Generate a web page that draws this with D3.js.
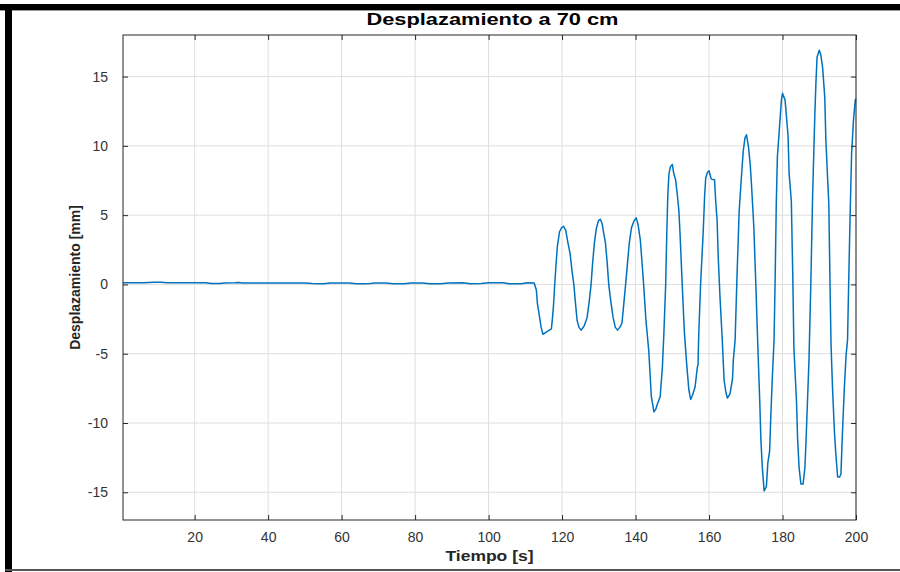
<!DOCTYPE html>
<html>
<head>
<meta charset="utf-8">
<script src="https://cdn.jsdelivr.net/npm/d3@7"></script>
<style>
body { margin: 0; background: #fff; }
text { font-family: "Liberation Sans", Arial, Helvetica, sans-serif; }
</style>
</head>
<body>
<div id="chart"></div>
<script>
// tiempo [s] y desplazamiento [mm]
let tiempo = [0.5, 6, 9, 11, 12.5, 20, 23, 24.5, 27, 28, 31, 32, 33, 40, 46, 50, 52, 55, 57, 62, 64, 67, 69, 72, 74, 77, 79, 82, 84, 87, 89, 93, 95, 98, 100, 104, 105.5, 109, 110.5, 112.4,
    113.0, 113.3, 113.9, 114.3, 114.8, 115.9, 117.1, 117.4, 117.7, 118.0, 118.3, 118.7, 119.3, 119.9, 120.4, 121.0, 121.6, 122.2, 122.7, 123.2, 123.7, 124.1, 124.6, 125.2, 126.0, 126.8, 127.4, 127.9, 128.3, 128.8, 129.3, 129.9,
    130.4, 130.9, 131.4, 131.8, 132.3, 132.7, 133.3, 133.9, 134.5, 135.1, 135.7, 136.3, 136.8, 137.3, 137.8, 138.3, 138.9, 139.6, 140.2, 140.7, 141.3, 141.7, 142.2, 142.8, 143.6, 144.3, 145.0, 145.5, 146.0, 146.7, 147.3, 147.7, 148.2, 148.5, 148.8, 149.1, 149.5,
    150.0, 150.4, 150.9, 151.4, 151.8, 152.1, 152.5, 152.9, 153.3, 153.9, 154.5, 155.0, 155.5, 156.2, 156.8, 157.0, 157.2, 157.7, 158.4, 158.8, 159.1, 159.6, 160.0, 160.6, 161.5, 161.8, 162.2, 162.5, 163.0, 163.6, 164.1, 164.6, 165.0, 165.7, 166.4, 166.6, 167.1, 167.6, 168.2, 168.8, 169.3, 169.8,
    170.2, 170.7, 171.2, 171.6, 172.2, 172.8, 173.3, 173.8, 174.1, 174.5, 175.0, 175.6, 176.0, 176.5, 176.8, 177.2, 177.7, 178.0, 178.3, 178.6, 179.3, 179.7, 180.0, 180.7, 181.5, 181.8, 182.4, 182.8, 183.1, 183.8, 184.1, 184.5, 185.0, 185.6, 186.1, 186.4, 186.8, 187.2, 187.7, 188.2, 188.8, 189.1, 189.4,
    190.0, 190.4, 190.9, 191.5, 191.8, 192.3, 192.6, 192.9, 193.2, 193.6, 194.1, 194.5, 195.0, 195.5, 195.9, 196.3, 196.8, 197.3, 197.7, 198.0, 198.4, 198.8, 199.3, 199.8, 200]
let desplazamiento = [0.13, 0.12, 0.16, 0.15, 0.13, 0.12, 0.12, 0.06, 0.06, 0.1, 0.12, 0.14, 0.1, 0.11, 0.11, 0.11, 0.07, 0.05, 0.1, 0.11, 0.05, 0.04, 0.1, 0.11, 0.05, 0.05, 0.11, 0.11, 0.05, 0.05, 0.11, 0.12, 0.05, 0.06, 0.12, 0.12, 0.05, 0.05, 0.12, 0.11,
    -0.4, -1.4, -2.4, -3.1, -3.6, -3.4, -3.2, -2.4, -1.4, 0.0, 1.2, 2.7, 3.8, 4.1, 4.2, 3.9, 3.0, 2.2, 1.0, 0.0, -1.5, -2.6, -3.1, -3.3, -3.0, -2.4, -1.2, 0.0, 1.5, 3.0, 4.0, 4.6,
    4.7, 4.4, 3.6, 3.0, 1.5, 0.0, -1.3, -2.4, -3.1, -3.3, -3.1, -2.8, -1.4, 0.0, 1.5, 3.0, 4.1, 4.6, 4.8, 4.3, 3.2, 1.8, 0.0, -2.5, -4.8, -8.1, -9.2, -9.0, -8.6, -8.1, -6.0, -3.6, 0.0, 3.7, 6.6, 8.0, 8.5,
    8.66, 8.0, 7.55, 6.4, 5.3, 3.7, 1.25, -1.2, -3.5, -5.7, -7.6, -8.3, -8.0, -7.4, -6.0, -5.8, -3.6, 0.0, 3.7, 6.4, 7.7, 8.1, 8.2, 7.6, 7.55, 6.06, 4.6, 2.0, -1.0, -4.0, -6.9, -7.8, -8.2, -7.9, -6.8, -5.5, -4.0, 0.5, 5.3, 7.7, 9.6, 10.6,
    10.8, 10.0, 8.7, 7.0, 4.1, -0.5, -4.6, -8.4, -11.1, -13.2, -14.9, -14.6, -12.9, -12.0, -9.6, -6.9, -4.0, 0.5, 5.8, 9.2, 11.8, 13.3, 13.8, 13.3, 10.75, 8.0, 6.0, 0.5, -4.6, -8.4, -11.1, -13.2, -14.4, -14.4, -13.2, -11.3, -8.4, -5.5, 0.0, 6.5, 12.3, 14.6, 16.4,
    16.9, 16.6, 15.7, 13.5, 10.4, 7.5, 5.8, 0.5, -4.3, -7.4, -10.5, -12.2, -13.9, -13.9, -13.7, -10.8, -7.6, -5.1, -4.0, 0.0, 5.0, 9.4, 11.8, 13.3, 13.4]
let xTicks = [20, 40, 60, 80, 100, 120, 140, 160, 180, 200]
let yTicks = [-15, -10, -5, 0, 5, 10, 15]

function drawDesplazamiento(){
    let width = 900
    let height = 572
    let margin = {top: 35, bottom: 52, left: 123, right: 44}
    let tickLen = 5
    let svg = d3.select("#chart")
        .append("svg")
            .attr("width", width)
            .attr("height", height)

    // marco negro de la captura
    svg.append("rect").attr("x", 0).attr("y", 4).attr("width", width).attr("height", 6).attr("fill", "#000")
    svg.append("rect").attr("x", 0).attr("y", 10).attr("width", width).attr("height", 1).attr("fill", "#999")
    svg.append("rect").attr("x", 5).attr("y", 4).attr("width", 7).attr("height", height - 4).attr("fill", "#000")
    svg.append("rect").attr("x", 5).attr("y", 569).attr("width", width - 5).attr("height", 2).attr("fill", "#555")

    let x = d3.scaleLinear()
        .domain([0.5, 200])
        .range([margin.left, width - margin.right])
    let y = d3.scaleLinear()
        .domain([-17, 18])
        .range([height - margin.bottom, margin.top])

    let x0 = margin.left, x1 = width - margin.right
    let y0 = height - margin.bottom, y1 = margin.top

    // rejilla
    svg.selectAll(".xGrid")
        .data(xTicks)
        .enter()
        .append("line")
            .attr("class", "xGrid")
            .attr("x1", d => x(d)).attr("x2", d => x(d))
            .attr("y1", y0).attr("y2", y1)
            .attr("stroke", "#dedede")
            .attr("stroke-width", 1)
    svg.selectAll(".yGrid")
        .data(yTicks)
        .enter()
        .append("line")
            .attr("class", "yGrid")
            .attr("x1", x0).attr("x2", x1)
            .attr("y1", d => y(d)).attr("y2", d => y(d))
            .attr("stroke", "#dedede")
            .attr("stroke-width", 1)

    // señal
    let linea = d3.line()
        .x(d => x(d[0]))
        .y(d => y(d[1]))
    let puntos = tiempo.map((t, i) => [t, desplazamiento[i]])
    svg.append("path")
        .attr("fill", "none")
        .attr("stroke", "#0072BD")
        .attr("stroke-width", 1.5)
        .attr("stroke-linejoin", "round")
        .attr("d", linea(puntos))

    // ejes con marcas hacia dentro, tambien arriba y a la derecha
    let axisColour = "#262626"
    let fmt = d3.format("d")
    let bottom = svg.append("g").attr("transform", "translate(0," + y0 + ")")
        .call(d3.axisBottom(x).tickValues(xTicks).tickSizeInner(-tickLen).tickSizeOuter(0).tickPadding(12).tickFormat(fmt))
    let top = svg.append("g").attr("transform", "translate(0," + y1 + ")")
        .call(d3.axisTop(x).tickValues(xTicks).tickSizeInner(-tickLen).tickSizeOuter(0).tickFormat(""))
    let left = svg.append("g").attr("transform", "translate(" + x0 + ",0)")
        .call(d3.axisLeft(y).tickValues(yTicks).tickSizeInner(-tickLen).tickSizeOuter(0).tickPadding(15).tickFormat(fmt))
    let right = svg.append("g").attr("transform", "translate(" + x1 + ",0)")
        .call(d3.axisRight(y).tickValues(yTicks).tickSizeInner(-tickLen).tickSizeOuter(0).tickFormat(""))

    ;[bottom, top, left, right].forEach(function(g){
        g.select(".domain").remove()
        g.selectAll(".tick line").attr("stroke", axisColour)
        g.selectAll(".tick text")
            .attr("fill", "#333")
            .style("font-size", "14px")
            .style("font-family", "'Liberation Sans', Arial, sans-serif")
    })
    left.selectAll(".tick text").text(d => d < 0 ? "-" + Math.abs(d) : d)

    svg.append("rect")
        .attr("x", x0).attr("y", y1)
        .attr("width", x1 - x0).attr("height", y0 - y1)
        .attr("fill", "none")
        .attr("stroke", axisColour)
        .attr("stroke-width", 1)

    // textos
    svg.append("text")
        .attr("x", (x0 + x1) / 2 + 3)
        .attr("y", 25)
        .attr("text-anchor", "middle")
        .attr("font-weight", "bold")
        .attr("font-size", 16)
        .attr("textLength", 252)
        .attr("lengthAdjust", "spacingAndGlyphs")
        .attr("fill", "#000")
        .text("Desplazamiento a 70 cm")
    svg.append("text")
        .attr("x", (x0 + x1) / 2)
        .attr("y", 561)
        .attr("text-anchor", "middle")
        .attr("font-weight", "bold")
        .attr("font-size", 14)
        .attr("textLength", 88)
        .attr("lengthAdjust", "spacingAndGlyphs")
        .attr("fill", "#262626")
        .text("Tiempo [s]")
    svg.append("text")
        .attr("transform", "translate(80," + (y0 + y1) / 2 + ") rotate(-90)")
        .attr("text-anchor", "middle")
        .attr("font-weight", "bold")
        .attr("font-size", 14)
        .attr("fill", "#262626")
        .text("Desplazamiento [mm]")
}
drawDesplazamiento()
</script>
</body>
</html>
